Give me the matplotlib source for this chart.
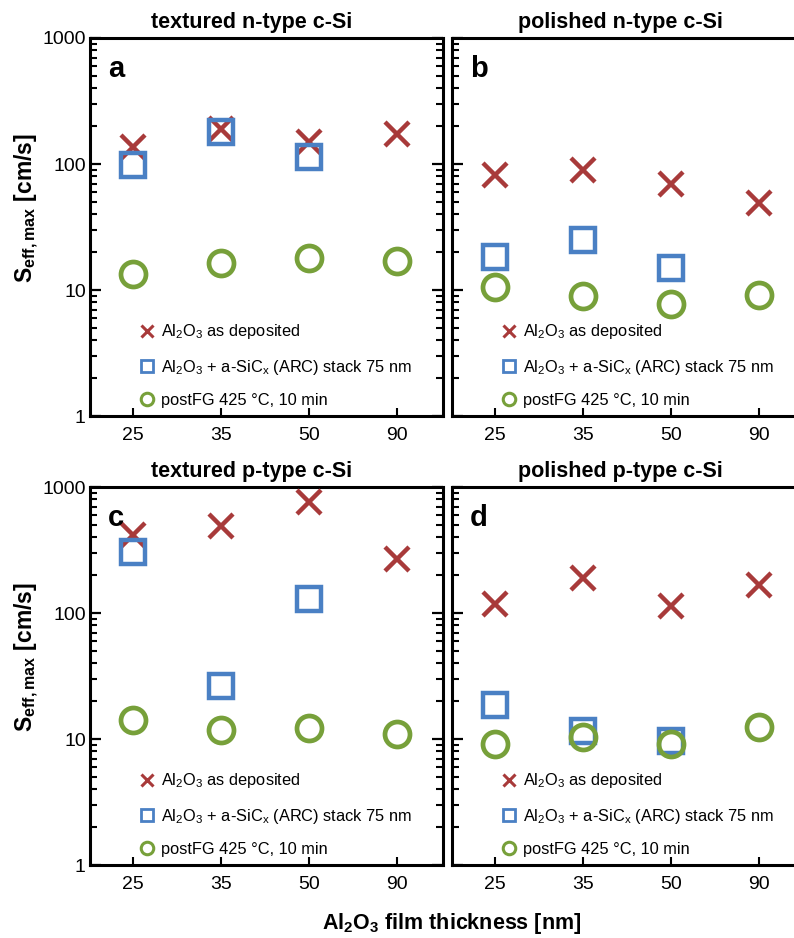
import numpy as np
import matplotlib
matplotlib.use('Agg')
import matplotlib.pyplot as plt
from matplotlib.ticker import NullFormatter, FixedLocator, FuncFormatter

plt.rcParams['font.family'] = ['Liberation Sans', 'DejaVu Sans']
plt.rcParams['mathtext.fontset'] = 'custom'
plt.rcParams['mathtext.rm'] = 'Liberation Sans'
plt.rcParams['mathtext.bf'] = 'Liberation Sans:bold'

# Al2O3 film thickness categories
thickness = ['25', '35', '50', '90']

titles = ['textured n-type c-Si', 'polished n-type c-Si',
          'textured p-type c-Si', 'polished p-type c-Si']
letters = ['a', 'b', 'c', 'd']

# Seff,max [cm/s]
as_dep = [
    [136, 190, 149, 174],
    [82, 90, 69, 49],
    [416, 490, 758, 270],
    [118, 189, 114, 168],
]
stack = [
    [99, 181, 114, None],
    [18.2, 25, 14.9, None],
    [305, 26.5, 128, None],
    [18.5, 11.6, 9.6, None],
]
post_fg = [
    [13.3, 16.5, 17.9, 16.9],
    [10.5, 9.0, 7.8, 9.2],
    [14.2, 11.8, 12.2, 10.9],
    [9.1, 10.4, 9.1, 12.5],
]

labels = [r'Al$_2$O$_3$ as deposited',
          r'Al$_2$O$_3$ + a-SiC$_\mathregular{x}$ (ARC) stack 75 nm',
          u'postFG 425 \u00b0C, 10 min']

red = '#A83A3A'
blue = '#4A80C4'
green = '#77A03A'

W, H = 794, 938
fig = plt.figure(figsize=(W / 100, H / 100), dpi=100)

# axes boxes in pixels: left, top
boxes = [(90, 38), (452, 38), (90, 487), (452, 487)]
aw, ah = 353, 378
title_x = [0.459, 0.476, 0.459, 0.476]

xs = np.arange(len(thickness))
major_y = [1, 10, 100, 1000]
minor_y = [m * d for d in [1, 10, 100] for m in range(2, 10)]

for i in range(4):
    l, t = boxes[i]
    ax = fig.add_axes([l / W, 1 - (t + ah) / H, aw / W, ah / H])
    ax.set_yscale('log')
    ax.set_ylim(1, 1000)
    ax.set_xlim(-0.49, 3.52)

    sx = [x for x, v in zip(xs, stack[i]) if v is not None]
    sv = [v for v in stack[i] if v is not None]

    ax.plot(xs, as_dep[i], ls='none', marker='x', ms=17, mew=3.2,
            color=red, zorder=3)
    ax.plot(sx, sv, ls='none', marker='s', ms=17, mew=3.2,
            mfc='none', mec=blue, zorder=4)
    ax.plot(xs, post_fg[i], ls='none', marker='o', ms=18, mew=3.4,
            mfc='none', mec=green, zorder=5)

    # legend proxies
    h1, = ax.plot([], [], ls='none', marker='x', ms=9, mew=2.2, color=red)
    h2, = ax.plot([], [], ls='none', marker='s', ms=9, mew=2.0, mfc='none', mec=blue)
    h3, = ax.plot([], [], ls='none', marker='o', ms=9, mew=2.2, mfc='none', mec=green)
    ax.legend([h1, h2, h3], labels, loc='lower left',
              bbox_to_anchor=(0.1, -0.005), frameon=False, fontsize=11.8,
              labelspacing=1.0, handletextpad=0.1, handlelength=1.5,
              borderaxespad=0.2)

    ax.xaxis.set_major_locator(FixedLocator(xs))
    ax.set_xticklabels(thickness)
    ax.yaxis.set_major_locator(FixedLocator(major_y))
    ax.yaxis.set_minor_locator(FixedLocator(minor_y))
    ax.yaxis.set_major_formatter(FuncFormatter(lambda v, p: '%g' % v))
    ax.yaxis.set_minor_formatter(NullFormatter())
    ax.tick_params(axis='x', which='both', direction='in', top=False,
                   length=6, width=1.5, labelsize=14, pad=8)
    ax.tick_params(axis='y', which='major', direction='in', left=True, right=True,
                   length=8, width=1.6, labelsize=14, pad=3)
    ax.tick_params(axis='y', which='minor', direction='in', left=True, right=True,
                   length=5, width=1.5)
    if i % 2 == 0:
        ax.set_ylabel(r'$\mathbf{S}_{\mathbf{eff,max}}$ [cm/s]',
                      fontsize=16.5, fontweight='bold')
        ax.yaxis.set_label_coords(-0.14, 0.55)
    else:
        ax.tick_params(axis='y', which='both', labelleft=False)

    for sp in ax.spines.values():
        sp.set_linewidth(2.2)

    ax.text(title_x[i], 1.04, titles[i], transform=ax.transAxes,
            ha='center', va='center', fontsize=15.5, fontweight='bold')
    ax.text(0.05, 0.955, letters[i], transform=ax.transAxes,
            ha='left', va='top', fontsize=21, fontweight='bold')

fig.text(452 / W, 1 - 923 / H, r'Al$_\mathbf{2}$O$_\mathbf{3}$ film thickness [nm]',
         ha='center', va='center', fontsize=15.5, fontweight='bold')

fig.savefig('out.png', dpi=100)
